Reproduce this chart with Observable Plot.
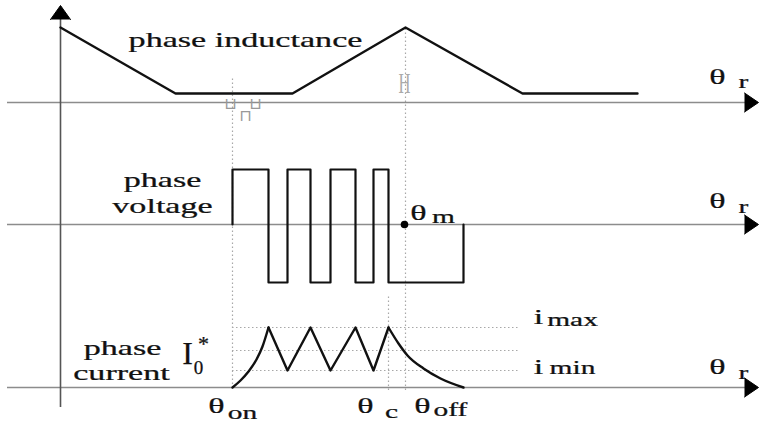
<!DOCTYPE html>
<html>
<head>
<meta charset="utf-8">
<script src="https://cdn.jsdelivr.net/npm/d3@7"></script>
<script src="https://cdn.jsdelivr.net/npm/@observablehq/plot@0.6"></script>
<style>
  html, body { margin: 0; padding: 0; background: #fff; }
  svg { display: block; }
</style>
</head>
<body>
<div id="chart"></div>
<script>
// ---- Data (rotor angle θ in arbitrary units, 0 at the vertical axis) ----
const inductanceTheta = [0, 115, 232, 345, 462, 577];
const inductanceValue = [75, 9, 9, 75, 9, 9];

const voltageTheta = [172, 172, 208, 227, 250, 270, 295, 313, 328, 403];
const voltageValue = [0, 55, -58, 55, -58, 55, -58, 55, -58, 0];

const riseTheta = [172, 180, 188, 196, 202, 208];
const riseValue = [0, 7, 16, 28, 41, 60];
const chopTheta = [208, 227, 250, 270, 295, 313, 328];
const chopValue = [60, 17, 60, 17, 60, 17, 60];
const decayTheta = [328, 338, 347, 363, 380, 403];
const decayValue = [60, 44, 32, 19, 9, 0];

const iMax = 60, i0 = 37, iMin = 17;
const thetaOn = 172, thetaC = 328, thetaM = 344, thetaOff = 403;

// ---- Layout (panel baselines in the shared vertical unit) ----
const base = {inductance: 322, voltage: 200, current: 37};
const xLeft = -53, xArrowBase = 684, xArrowTip = 698;
const levelEnd = 460;

const serif = "'Liberation Serif', 'DejaVu Serif', serif";
const ink = "#111";

const toRows = (xs, ys, off, extra = {}) => xs.map((x, i) => ({x, y: ys[i] + off, ...extra}));

const inductance = toRows(inductanceTheta, inductanceValue, base.inductance);
const voltage = toRows(voltageTheta, voltageValue, base.voltage);
const currentSmooth = [
  ...toRows(riseTheta, riseValue, base.current, {seg: "rise"}),
  ...toRows(decayTheta, decayValue, base.current, {seg: "decay"})
];
const currentChop = toRows(chopTheta, chopValue, base.current);

// arrowheads
const arrows = [];
[base.inductance, base.voltage, base.current].forEach((b, k) => {
  arrows.push({id: "r" + k, x: xArrowBase, y: b + 9.5}, {id: "r" + k, x: xArrowTip, y: b}, {id: "r" + k, x: xArrowBase, y: b - 9.5});
});
arrows.push({id: "up", x: -10, y: 405}, {id: "up", x: 0, y: 419}, {id: "up", x: 10, y: 405});

// labels (stretched horizontally like the reference)
const bigLabels = [
  {x: 185, y: 378, t: "phase inductance"},
  {x: 102, y: 238, t: "phase"},
  {x: 102, y: 212, t: "voltage"},
  {x: 62, y: 70, t: "phase"},
  {x: 61, y: 45, t: "current"},
  {x: 657, y: 341, t: "θ"},
  {x: 657, y: 217, t: "θ"},
  {x: 657, y: 51, t: "θ"},
  {x: 358, y: 205, t: "θ"},
  {x: 156, y: 12, t: "θ"},
  {x: 305, y: 12, t: "θ"},
  {x: 362, y: 12, t: "θ"},
  {x: 478, y: 101, t: "i"},
  {x: 478, y: 51, t: "i"}
];
const subLabels = [
  {x: 683, y: 337, t: "r"},
  {x: 683, y: 212, t: "r"},
  {x: 683, y: 46, t: "r"},
  {x: 383, y: 202, t: "m"},
  {x: 182, y: 6, t: "on"},
  {x: 331, y: 7, t: "c"},
  {x: 390, y: 9, t: "off"},
  {x: 512, y: 99, t: "max"},
  {x: 512, y: 51, t: "min"}
];

const dotted = {stroke: "#a8a8a8", strokeWidth: 1.2, strokeDasharray: "1.5,2.5"};
const textStroke = {stroke: ink, strokeWidth: 0.25};

const svg = Plot.plot({
  width: 759,
  height: 424,
  margin: 0,
  x: {domain: [-60, 699], axis: null},
  y: {domain: [0, 424], axis: null},
  marks: [
    // dotted guides
    Plot.ruleX([thetaOn], {y1: 36, y2: 347, ...dotted}),
    Plot.ruleX([thetaM + 1], {y1: 34, y2: 397, ...dotted}),
    Plot.ruleX([thetaC], {y1: 34, y2: 128, ...dotted}),
    Plot.ruleY([iMax, i0, iMin].map(v => v + base.current), {x1: thetaOn, x2: levelEnd, ...dotted}),
    // axes
    Plot.ruleY([base.inductance, base.voltage, base.current], {x1: xLeft, x2: xArrowBase + 2, stroke: "#8c8c8c", strokeWidth: 1.6}),
    Plot.ruleX([0], {y1: 17, y2: 406, stroke: "#555", strokeWidth: 1.6}),
    Plot.line(arrows, {x: "x", y: "y", z: "id", fill: "#000", stroke: "#000", strokeWidth: 1}),
    // small marks
    Plot.text([{x: 170, y: 316, t: "⊔"}, {x: 195, y: 316, t: "⊔"}, {x: 185, y: 304, t: "⊓"}],
      {x: "x", y: "y", text: "t", fontSize: 16, fill: "#999", lineAnchor: "bottom", fontFamily: "'DejaVu Sans', sans-serif"}),
    Plot.text([{x: 344, y: 332, t: "H"}], {x: "x", y: "y", text: "t", fontSize: 30, fill: "#aaa", lineAnchor: "bottom", fontFamily: serif, ariaDescription: "narrow"}),
    // signals
    Plot.line(inductance, {x: "x", y: "y", stroke: ink, strokeWidth: 2.4}),
    Plot.line(voltage, {x: "x", y: "y", stroke: ink, strokeWidth: 2.2, curve: "step-after"}),
    Plot.line(currentSmooth, {x: "x", y: "y", z: "seg", stroke: ink, strokeWidth: 2.4, curve: "monotone-x"}),
    Plot.line(currentChop, {x: "x", y: "y", stroke: ink, strokeWidth: 2.4}),
    Plot.dot([{x: thetaM, y: base.voltage}], {x: "x", y: "y", r: 3.8, fill: "#000"}),
    // labels
    Plot.text(bigLabels, {x: "x", y: "y", text: "t", fontSize: 22, fill: ink, ...textStroke, lineAnchor: "bottom", fontFamily: serif, ariaDescription: "stretch"}),
    Plot.text(subLabels, {x: "x", y: "y", text: "t", fontSize: 19, fill: ink, ...textStroke, lineAnchor: "bottom", fontFamily: serif, ariaDescription: "stretch"}),
    Plot.text([{x: 127, y: 61, t: "I"}], {x: "x", y: "y", text: "t", fontSize: 32, fill: ink, ...textStroke, lineAnchor: "bottom", fontFamily: serif}),
    Plot.text([{x: 138, y: 51, t: "0"}], {x: "x", y: "y", text: "t", fontSize: 19, fill: ink, ...textStroke, lineAnchor: "bottom", fontFamily: serif}),
    Plot.text([{x: 143, y: 74, t: "*"}], {x: "x", y: "y", text: "t", fontSize: 22, fill: ink, ...textStroke, lineAnchor: "bottom", fontFamily: serif})
  ]
});

function scaleTexts(label, sx) {
  const groups = svg.querySelectorAll(`g[aria-description="${label}"], g[aria-label="${label}"]`);
  groups.forEach(g => g.querySelectorAll("text").forEach(el => {
    const t = el.getAttribute("transform") || "";
    const x = el.getAttribute("x"), y = el.getAttribute("y");
    if (x != null || y != null) {
      el.removeAttribute("x"); el.removeAttribute("y");
      el.setAttribute("transform", `${t} translate(${x || 0},${y || 0}) scale(${sx},1)`);
    } else {
      el.setAttribute("transform", `${t} scale(${sx},1)`);
    }
  }));
}
scaleTexts("stretch", 1.55);
scaleTexts("narrow", 0.55);

document.getElementById("chart").appendChild(svg);
</script>
</body>
</html>
